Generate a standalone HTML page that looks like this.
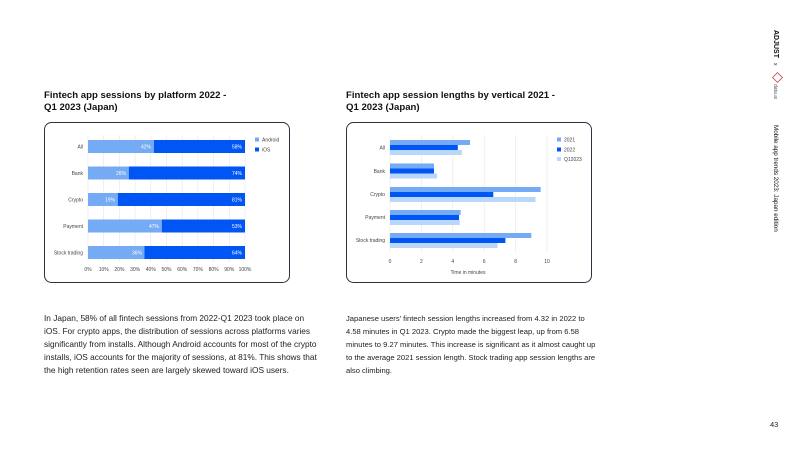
<!DOCTYPE html>
<html><head><meta charset="utf-8"><style>
html,body{margin:0;padding:0;background:#fff}
svg{display:block;font-family:"Liberation Sans",sans-serif}
</style></head><body>
<svg width="800" height="450" viewBox="0 0 800 450" xmlns="http://www.w3.org/2000/svg">
<rect width="800" height="450" fill="#fff"/>
<g font-size="9.6" font-weight="bold" fill="#111">
<text x="44" y="98">Fintech app sessions by platform 2022 -</text>
<text x="44" y="110">Q1 2023 (Japan)</text>
<text x="346" y="98">Fintech app session lengths by vertical 2021 -</text>
<text x="346" y="110">Q1 2023 (Japan)</text>
</g>
<rect x="44.5" y="122.5" width="245" height="160" rx="7" fill="#fff" stroke="#2a3340" stroke-width="1"/>
<g stroke="#e6e6e6" stroke-width="0.6">
<line x1="88" y1="135" x2="88" y2="262"/><line x1="103.7" y1="135" x2="103.7" y2="262"/><line x1="119.4" y1="135" x2="119.4" y2="262"/><line x1="135.1" y1="135" x2="135.1" y2="262"/><line x1="150.8" y1="135" x2="150.8" y2="262"/><line x1="166.5" y1="135" x2="166.5" y2="262"/><line x1="182.2" y1="135" x2="182.2" y2="262"/><line x1="197.9" y1="135" x2="197.9" y2="262"/><line x1="213.6" y1="135" x2="213.6" y2="262"/><line x1="229.3" y1="135" x2="229.3" y2="262"/><line x1="245" y1="135" x2="245" y2="262"/>
</g>
<g font-size="5" fill="#fff" text-anchor="end">
<rect x="88" y="140" width="65.9" height="13" fill="#75aaf4"/><rect x="153.9" y="140" width="91.1" height="13" fill="#0055f5"/>
<text x="151" y="148.5">42%</text><text x="242" y="148.5">58%</text>
<rect x="88" y="166.5" width="40.8" height="13" fill="#75aaf4"/><rect x="128.8" y="166.5" width="116.2" height="13" fill="#0055f5"/>
<text x="126" y="175">26%</text><text x="242" y="175">74%</text>
<rect x="88" y="193" width="29.8" height="13" fill="#75aaf4"/><rect x="117.8" y="193" width="127.2" height="13" fill="#0055f5"/>
<text x="115" y="201.5">19%</text><text x="242" y="201.5">81%</text>
<rect x="88" y="219.5" width="73.8" height="13" fill="#75aaf4"/><rect x="161.8" y="219.5" width="83.2" height="13" fill="#0055f5"/>
<text x="159" y="228">47%</text><text x="242" y="228">53%</text>
<rect x="88" y="246" width="56.5" height="13" fill="#75aaf4"/><rect x="144.5" y="246" width="100.5" height="13" fill="#0055f5"/>
<text x="142" y="254.5">36%</text><text x="242" y="254.5">64%</text>
</g>
<g font-size="5" fill="#444" text-anchor="end">
<text x="83" y="148.5">All</text><text x="83" y="175">Bank</text><text x="83" y="201.5">Crypto</text><text x="83" y="228">Payment</text><text x="83" y="254.5">Stock trading</text>
</g>
<g font-size="5" fill="#444" text-anchor="middle">
<text x="88" y="271">0%</text><text x="103.7" y="271">10%</text><text x="119.4" y="271">20%</text><text x="135.1" y="271">30%</text><text x="150.8" y="271">40%</text><text x="166.5" y="271">50%</text><text x="182.2" y="271">60%</text><text x="197.9" y="271">70%</text><text x="213.6" y="271">80%</text><text x="229.3" y="271">90%</text><text x="245" y="271">100%</text>
</g>
<rect x="255" y="137.5" width="4" height="4" fill="#75aaf4"/><text x="262" y="141.5" font-size="5" fill="#444">Android</text>
<rect x="255" y="147.5" width="4" height="4" fill="#0055f5"/><text x="262" y="151.5" font-size="5" fill="#444">iOS</text>
<rect x="346.5" y="122.5" width="245" height="160" rx="7" fill="#fff" stroke="#2a3340" stroke-width="1"/>
<g stroke="#e6e6e6" stroke-width="0.6">
<line x1="390" y1="135" x2="390" y2="252"/><line x1="421.4" y1="135" x2="421.4" y2="252"/><line x1="452.8" y1="135" x2="452.8" y2="252"/><line x1="484.2" y1="135" x2="484.2" y2="252"/><line x1="515.6" y1="135" x2="515.6" y2="252"/><line x1="547" y1="135" x2="547" y2="252"/>
</g>
<g>
<rect x="390" y="140" width="80" height="5" fill="#75aaf4"/><rect x="390" y="145" width="67.8" height="5" fill="#0055f5"/><rect x="390" y="150" width="71.9" height="5" fill="#b9d6fb"/>
<rect x="390" y="163.5" width="44" height="5" fill="#75aaf4"/><rect x="390" y="168.5" width="44" height="5" fill="#0055f5"/><rect x="390" y="173.5" width="47.1" height="5" fill="#b9d6fb"/>
<rect x="390" y="187" width="150.7" height="5" fill="#75aaf4"/><rect x="390" y="192" width="103.3" height="5" fill="#0055f5"/><rect x="390" y="197" width="145.5" height="5" fill="#b9d6fb"/>
<rect x="390" y="210" width="70.6" height="5" fill="#75aaf4"/><rect x="390" y="215" width="69" height="5" fill="#0055f5"/><rect x="390" y="220" width="69.8" height="5" fill="#b9d6fb"/>
<rect x="390" y="233" width="141.3" height="5" fill="#75aaf4"/><rect x="390" y="238" width="115.4" height="5" fill="#0055f5"/><rect x="390" y="243" width="107.5" height="5" fill="#b9d6fb"/>
</g>
<g font-size="5" fill="#444" text-anchor="end">
<text x="385" y="149.5">All</text><text x="385" y="173">Bank</text><text x="385" y="196">Crypto</text><text x="385" y="219">Payment</text><text x="385" y="242">Stock trading</text>
</g>
<g font-size="5" fill="#444" text-anchor="middle">
<text x="390" y="263">0</text><text x="421.4" y="263">2</text><text x="452.8" y="263">4</text><text x="484.2" y="263">6</text><text x="515.6" y="263">8</text><text x="547" y="263">10</text>
<text x="468" y="274">Time in minutes</text>
</g>
<rect x="557" y="137.5" width="4" height="4" fill="#75aaf4"/><text x="564" y="141.5" font-size="5" fill="#444">2021</text>
<rect x="557" y="147.5" width="4" height="4" fill="#0055f5"/><text x="564" y="151.5" font-size="5" fill="#444">2022</text>
<rect x="557" y="157" width="4" height="4" fill="#b9d6fb"/><text x="564" y="161" font-size="5" fill="#444">Q12023</text>
<g font-size="8.3" fill="#222">
<text x="44" y="321">In Japan, 58% of all fintech sessions from 2022-Q1 2023 took place on</text>
<text x="44" y="334">iOS. For crypto apps, the distribution of sessions across platforms varies</text>
<text x="44" y="347">significantly from installs. Although Android accounts for most of the crypto</text>
<text x="44" y="360">installs, iOS accounts for the majority of sessions, at 81%. This shows that</text>
<text x="44" y="373">the high retention rates seen are largely skewed toward iOS users.</text>
</g>
<g font-size="7.6" fill="#222">
<text x="346" y="321">Japanese users' fintech session lengths increased from 4.32 in 2022 to</text>
<text x="346" y="334">4.58 minutes in Q1 2023. Crypto made the biggest leap, up from 6.58</text>
<text x="346" y="347">minutes to 9.27 minutes. This increase is significant as it almost caught up</text>
<text x="346" y="360">to the average 2021 session length. Stock trading app session lengths are</text>
<text x="346" y="373">also climbing.</text>
</g>
<g transform="translate(774,30) rotate(90)" fill="#111">
<text x="0" y="0" font-size="7" font-weight="bold">ADJUST</text>
<text x="33" y="0" font-size="5">x</text>
<rect x="44" y="-7" width="7" height="7" fill="none" stroke="#c44" stroke-width="0.8" transform="rotate(45 47.5 -3.5)"/>
<text x="54" y="0" font-size="5" fill="#555">data.ai</text>
<text x="95" y="0" font-size="6.3">Mobile app trends 2023: Japan edition</text>
</g>
<text x="770" y="427" font-size="7.5" fill="#222">43</text>
</svg>
</body></html>
